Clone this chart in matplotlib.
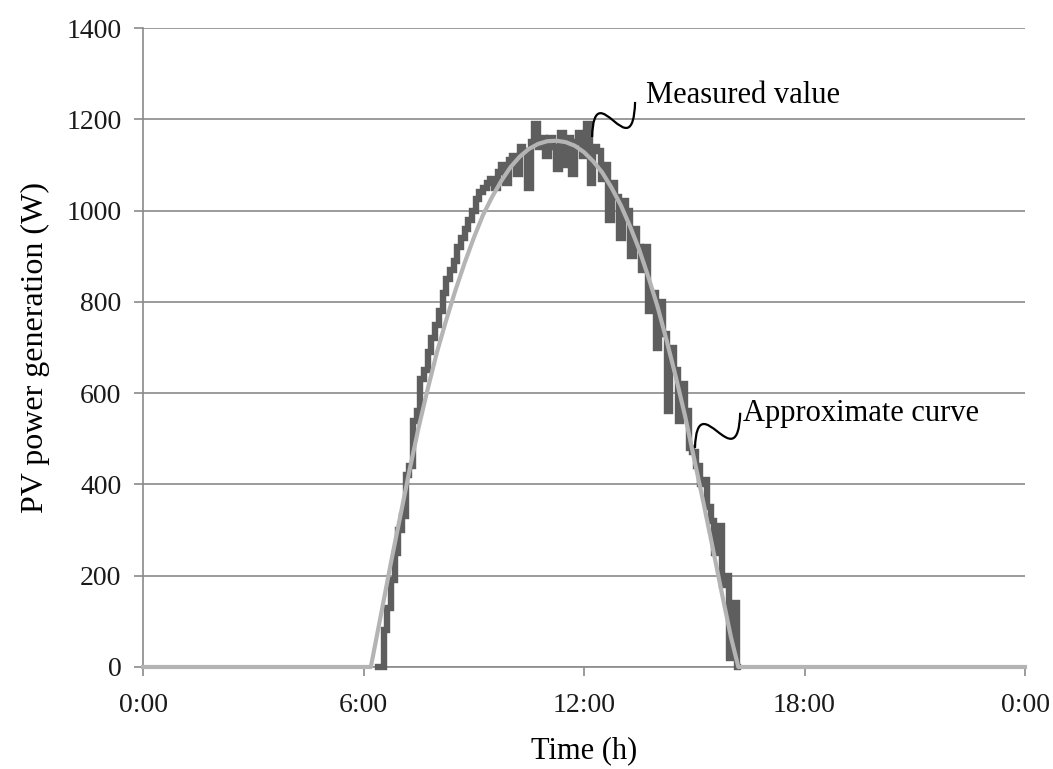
import numpy as np
import matplotlib
matplotlib.use("Agg")
import matplotlib.pyplot as plt
from matplotlib.path import Path
from matplotlib.patches import PathPatch
from matplotlib.transforms import IdentityTransform

# ---------------- data ----------------
meas_start_h = 6.4
meas_step_h = 0.1
measured_w = [
    0, 0, 80, 130, 190, 250, 300, 330, 420, 440,            # 6.4 - 7.3
    540, 560, 630, 650, 690, 720, 750, 780, 820, 850,       # 7.4 - 8.3
    870, 890, 920, 940, 960, 980, 1000, 1025, 1040, 1050,   # 8.4 - 9.3
    1060, 1070, 1050, 1085, 1100, 1060, 1110, 1120, 1080, 1140,  # 9.4 - 10.3
    1130, 1050, 1150, 1190, 1140, 1160, 1120, 1160, 1140, 1090,  # 10.4 - 11.3
    1170, 1100, 1160, 1080, 1150, 1170, 1120, 1190, 1060, 1140,  # 11.4 - 12.3
    1130, 1070, 1100, 980, 1060, 1030, 940, 1020, 1000, 900,     # 12.4 - 13.3
    960, 920, 870, 920, 780, 820, 700, 800, 730, 560,            # 13.4 - 14.3
    700, 650, 540, 620, 560, 480, 470, 440, 400, 410,            # 14.4 - 15.3
    350, 320, 250, 310, 180, 200, 20, 140, 0,                    # 15.4 - 16.2
]

approx_h = [0.0, 6.2, 6.5, 6.75, 7.0, 7.25, 7.5, 7.75, 8.0, 8.25, 8.5, 8.75,
            9.0, 9.25, 9.5, 9.75, 10.0, 10.25, 10.5, 10.75, 11.0, 11.25,
            11.5, 11.75, 12.0, 12.25, 12.5, 12.75, 13.0, 13.25, 13.5, 13.75,
            14.0, 14.25, 14.5, 14.75, 15.0, 15.25, 15.5, 15.75, 16.0, 16.2,
            24.0]
approx_w = [0, 0, 125, 230, 330, 430, 525, 610, 690, 760, 825, 885,
            940, 990, 1030, 1065, 1095, 1118, 1135, 1146, 1152, 1153,
            1150, 1142, 1128, 1108, 1083, 1050, 1012, 966, 915, 855,
            790, 715, 635, 550, 455, 360, 262, 162, 65, 0,
            0]

xtick_h = [0, 6, 12, 18, 24]
xtick_labels = ["0:00", "6:00", "12:00", "18:00", "0:00"]
ytick_w = [0, 200, 400, 600, 800, 1000, 1200, 1400]

# ---------------- figure ----------------
plt.rcParams['font.family'] = ['Liberation Serif', 'DejaVu Serif']
fig = plt.figure(figsize=(10.53, 7.69), dpi=100)
ax = fig.add_axes([143 / 1053, 1 - 667 / 769, (1025 - 143) / 1053, (667 - 28) / 769])

meas_h = meas_start_h + meas_step_h * np.arange(len(measured_w))
ax.plot(meas_h, measured_w, color="#5e5e5e", lw=4.6, drawstyle="steps-mid",
        solid_joinstyle="miter", zorder=3, clip_on=False)
ax.plot(approx_h, approx_w, color="#b4b4b4", lw=3.0, zorder=4, clip_on=False,
        solid_joinstyle="round")

ax.set_xlim(0, 24)
ax.set_ylim(0, 1400)
ax.set_xticks(xtick_h)
ax.set_xticklabels(xtick_labels)
ax.set_yticks(ytick_w)

ax.grid(axis="y", color="#8a8a8a", lw=1.2)
ax.set_axisbelow(True)
for s in ("top", "right"):
    ax.spines[s].set_visible(False)
for s in ("left", "bottom"):
    ax.spines[s].set_color("#8a8a8a")
    ax.spines[s].set_linewidth(1.2)

ax.tick_params(axis="both", colors="#8a8a8a", labelcolor="#1a1a1a",
               labelsize=20, length=6.5, width=1.2, direction="out")
ax.tick_params(axis="y", pad=9)
ax.tick_params(axis="x", pad=12)

ax.set_xlabel("Time (h)", fontsize=22, labelpad=13)
ax.set_ylabel("PV power generation (W)", fontsize=23, labelpad=12)

# ---------------- annotations with squiggly leaders ----------------
def squiggle(anchor, end):
    a = ax.transData.transform(anchor)
    e = ax.transData.transform(end)
    dx, dy = e[0] - a[0], e[1] - a[1]
    verts = [a,
             (a[0] + 0.05 * dx, a[1] + 1.9 * dy),
             (a[0] + 0.95 * dx, a[1] - 1.0 * dy),
             e]
    p = Path(verts, [Path.MOVETO, Path.CURVE4, Path.CURVE4, Path.CURVE4])
    ax.add_patch(PathPatch(p, fill=False, edgecolor="black", lw=1.6,
                           transform=IdentityTransform(), clip_on=False, zorder=6))

squiggle((12.22, 1161), (13.39, 1238))
ax.text(13.69, 1253, "Measured value", fontsize=22, va="center", ha="left")

squiggle((15.02, 480), (16.25, 557))
ax.text(16.33, 556, "Approximate curve", fontsize=22, va="center", ha="left")

fig.savefig("out.png", dpi=100)
